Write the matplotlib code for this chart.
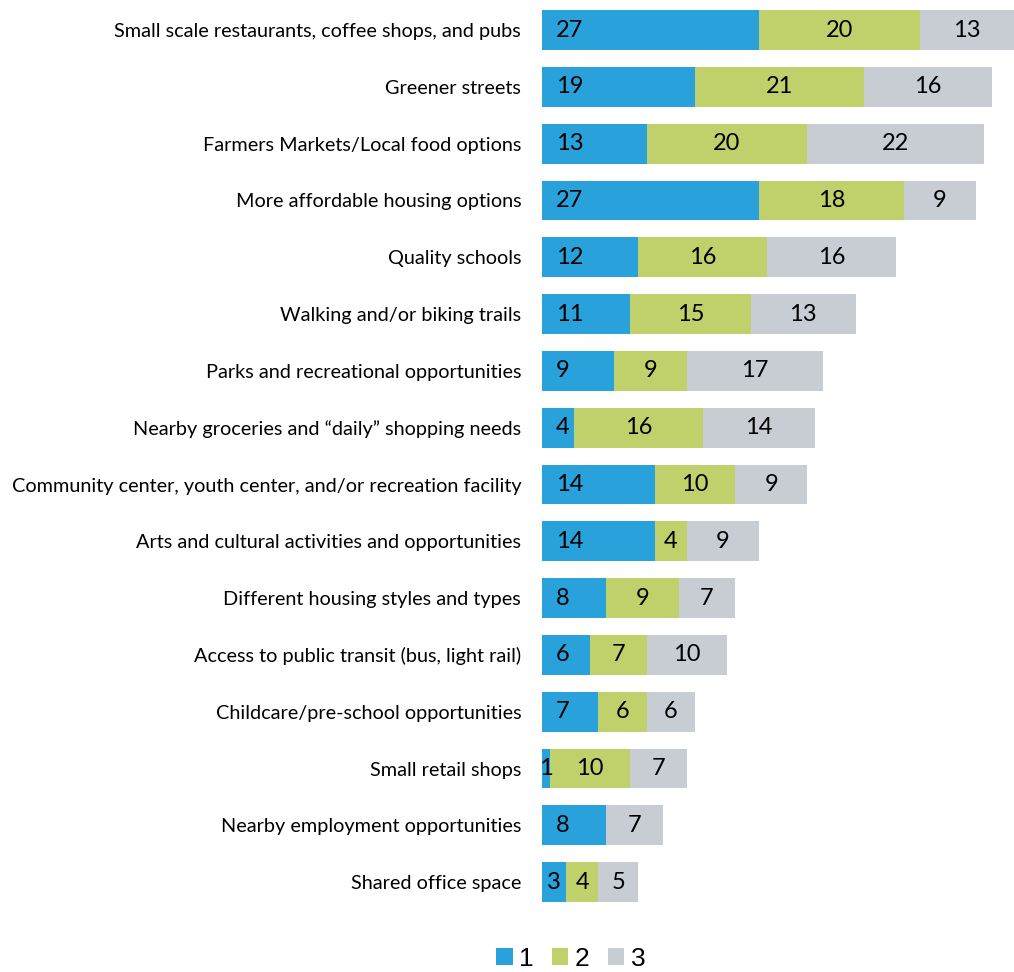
import matplotlib.pyplot as plt
import numpy as np

categories = ['Small scale restaurants, coffee shops, and pubs', 'Greener streets',
              'Farmers Markets/Local food options', 'More affordable housing options',
              'Quality schools', 'Walking and/or biking trails',
              'Parks and recreational opportunities',
              'Nearby groceries and \u201cdaily\u201d shopping needs',
              'Community center, youth center, and/or recreation facility',
              'Arts and cultural activities and opportunities',
              'Different housing styles and types',
              'Access to public transit (bus, light rail)',
              'Childcare/pre-school opportunities', 'Small retail shops',
              'Nearby employment opportunities', 'Shared office space']
rank1 = [27, 19, 13, 27, 12, 11, 9, 4, 14, 14, 8, 6, 7, 1, 8, 3]
rank2 = [20, 21, 20, 18, 16, 15, 9, 16, 10, 4, 9, 7, 6, 10, 0, 4]
rank3 = [13, 16, 22, 9, 16, 13, 17, 14, 9, 9, 7, 10, 6, 7, 7, 5]
series_names = ['1', '2', '3']
colors = ['#29A2DB', '#C0D06B', '#C8CDD4']

fig = plt.figure(figsize=(10.14, 9.72), dpi=100)
ax = fig.add_axes([542/1014, 1 - 910.6/972, 472/1014, 909/972])

y = np.arange(len(categories))
left = np.zeros(len(categories))
for vals, col, name in zip([rank1, rank2, rank3], colors, series_names):
    ax.barh(y, vals, left=left, height=0.7, color=col, label=name, linewidth=0)
    left = left + np.array(vals)

xmax = 472 / 8.04
ax.set_xlim(0, xmax)
ax.set_ylim(len(categories) - 0.5, -0.5)
px = xmax / 472  # data units per pixel

# value labels
fs = 17
for i in range(len(categories)):
    v1, v2, v3 = rank1[i], rank2[i], rank3[i]
    if v1 > 0:
        if v1 >= 4:
            ax.text(14 * px, i, str(v1), ha='left', va='center', fontsize=fs, family='Lato')
        else:
            ax.text(v1 / 2, i, str(v1), ha='center', va='center', fontsize=fs, family='Lato')
    if v2 > 0:
        ax.text(v1 + v2 / 2, i, str(v2), ha='center', va='center', fontsize=fs, family='Lato')
    if v3 > 0:
        c = v1 + v2 + v3 / 2
        if v1 + v2 + v3 > xmax:
            c = (v1 + v2 + xmax) / 2
        ax.text(c, i, str(v3), ha='center', va='center', fontsize=fs, family='Lato')

ax.set_yticks(y)
ax.set_yticklabels(categories, fontsize=14.3, family='Lato')
ax.tick_params(axis='y', length=0, pad=15)
ax.set_xticks([])
for s in ax.spines.values():
    s.set_visible(False)

fig.legend(loc='center', bbox_to_anchor=(571/1014, 1 - 959/972), ncol=3, frameon=False,
           prop={'family': 'Liberation Sans', 'size': 19}, borderaxespad=0, borderpad=0,
           handlelength=0.61, handleheight=0.61, handletextpad=0.25,
           columnspacing=0.7)

plt.savefig('out.png', dpi=100)
